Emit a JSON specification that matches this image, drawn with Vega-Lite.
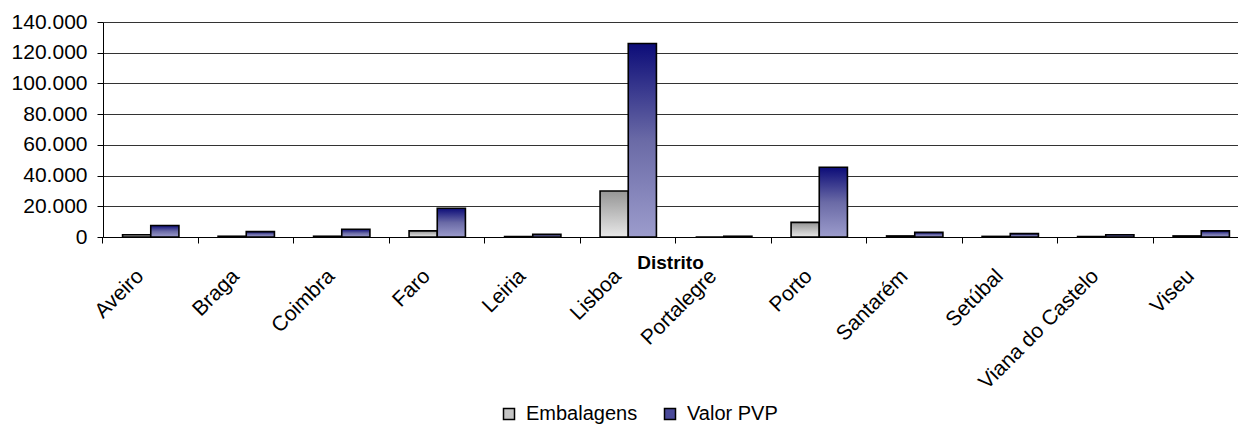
{
  "$schema": "https://vega.github.io/schema/vega-lite/v6.json",
  "autosize": {"type": "none"},
  "padding": {"left": 103, "top": 22, "right": 0, "bottom": 189},
  "width": 1135,
  "height": 215,
  "background": "white",
  "config": {
    "font": "Liberation Sans",
    "view": {"stroke": null},
    "locale": {"number": {"decimal": ",", "thousands": ".", "grouping": [3], "currency": ["", " €"]}}
  },
  "data": {
    "values": [
      {"distrito": "Aveiro", "serie": "Embalagens", "valor": 1500},
      {"distrito": "Aveiro", "serie": "Valor PVP", "valor": 7500},
      {"distrito": "Braga", "serie": "Embalagens", "valor": 500},
      {"distrito": "Braga", "serie": "Valor PVP", "valor": 3500},
      {"distrito": "Coimbra", "serie": "Embalagens", "valor": 500},
      {"distrito": "Coimbra", "serie": "Valor PVP", "valor": 5000},
      {"distrito": "Faro", "serie": "Embalagens", "valor": 4000},
      {"distrito": "Faro", "serie": "Valor PVP", "valor": 18700},
      {"distrito": "Leiria", "serie": "Embalagens", "valor": 300},
      {"distrito": "Leiria", "serie": "Valor PVP", "valor": 1700},
      {"distrito": "Lisboa", "serie": "Embalagens", "valor": 30000},
      {"distrito": "Lisboa", "serie": "Valor PVP", "valor": 126000},
      {"distrito": "Portalegre", "serie": "Embalagens", "valor": 0},
      {"distrito": "Portalegre", "serie": "Valor PVP", "valor": 500},
      {"distrito": "Porto", "serie": "Embalagens", "valor": 9500},
      {"distrito": "Porto", "serie": "Valor PVP", "valor": 45400},
      {"distrito": "Santarém", "serie": "Embalagens", "valor": 700},
      {"distrito": "Santarém", "serie": "Valor PVP", "valor": 3000},
      {"distrito": "Setúbal", "serie": "Embalagens", "valor": 400},
      {"distrito": "Setúbal", "serie": "Valor PVP", "valor": 2200},
      {"distrito": "Viana do Castelo", "serie": "Embalagens", "valor": 300},
      {"distrito": "Viana do Castelo", "serie": "Valor PVP", "valor": 1500},
      {"distrito": "Viseu", "serie": "Embalagens", "valor": 700},
      {"distrito": "Viseu", "serie": "Valor PVP", "valor": 4000}
    ]
  },
  "encoding": {
    "x": {
      "field": "distrito", "type": "nominal", "sort": null,
      "scale": {"range": [0, 1146], "paddingInner": 0.41, "paddingOuter": 0.205},
      "axis": {
        "title": "Distrito", "titleFontWeight": "bold", "titleFontSize": 19, "titleColor": "#000",
        "titleY": 31, "titleX": 567, "titleBaseline": "alphabetic",
        "bandPosition": -0.348, "labelOffset": -18, "labelAngle": -45, "labelAlign": "right", "labelBaseline": "top",
        "labelFontSize": 21, "labelColor": "#000", "labelPadding": 22, "tickSize": 6, "tickColor": "#000",
        "domainColor": "#000", "labelOverlap": false, "labelLimit": 0
      }
    },
    "xOffset": {"field": "serie", "type": "nominal", "sort": ["Embalagens", "Valor PVP"]},
    "y": {
      "field": "valor", "type": "quantitative",
      "scale": {"domain": [0, 140000], "nice": false},
      "axis": {
        "title": null, "values": [0, 20000, 40000, 60000, 80000, 100000, 120000, 140000],
        "format": ",d", "labelFontSize": 21, "labelColor": "#000", "tickSize": 6, "labelPadding": 10,
        "tickColor": "#000", "domainColor": "#000", "gridColor": "#333", "gridOpacity": 1
      }
    }
  },
  "layer": [
    {
      "transform": [{"filter": "datum.serie === 'Embalagens'"}],
      "mark": {
        "type": "bar", "stroke": "#000", "strokeWidth": 1.6,
        "fill": {"gradient": "linear", "x1": 0, "y1": 0, "x2": 0, "y2": 1,
          "stops": [{"offset": 0, "color": "#959595"}, {"offset": 1, "color": "#e8e8e8"}]}
      }
    },
    {
      "transform": [{"filter": "datum.serie === 'Valor PVP'"}],
      "mark": {
        "type": "bar", "stroke": "#000", "strokeWidth": 1.6,
        "fill": {"gradient": "linear", "x1": 0, "y1": 0, "x2": 0, "y2": 1,
          "stops": [{"offset": 0, "color": "#0c0c78"}, {"offset": 0.5, "color": "#6a6aa6"}, {"offset": 1, "color": "#9c9ccc"}]}
      }
    },
    {
      "mark": {"type": "bar", "opacity": 0},
      "encoding": {
        "color": {
          "field": "serie", "type": "nominal",
          "scale": {"domain": ["Embalagens", "Valor PVP"], "range": ["#c4c4c4", "#4a4a9a"]},
          "legend": {
            "title": null, "orient": "none", "direction": "horizontal", "legendX": 396, "legendY": 382,
            "padding": 0, "symbolType": "square", "symbolSize": 121, "symbolOpacity": 1, "symbolStrokeColor": "#000",
            "symbolStrokeWidth": 1.5, "labelFontSize": 20, "labelColor": "#000", "columnPadding": 22,
            "labelOffset": 7
          }
        }
      }
    }
  ]
}
